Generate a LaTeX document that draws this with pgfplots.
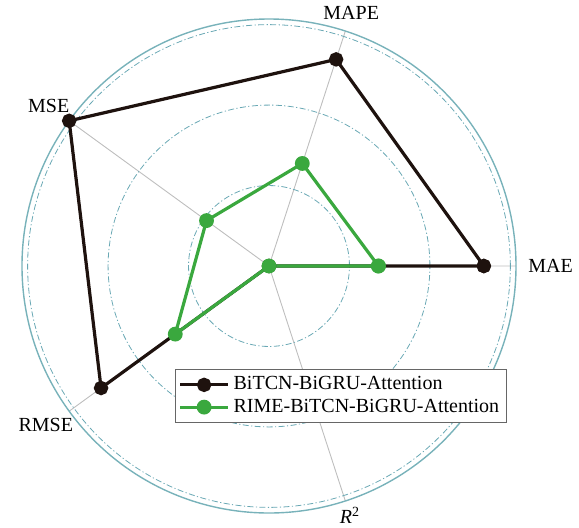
\documentclass[border=0pt]{standalone}
\usepackage{fontspec}
\setmainfont{Liberation Serif}
\usepackage{pgfplots}
\pgfplotsset{compat=1.18}
\usepgfplotslibrary{polar}
\definecolor{blk}{RGB}{30,18,14}
\definecolor{grn}{RGB}{58,168,62}
\definecolor{gridteal}{RGB}{105,168,180}
\definecolor{outerteal}{RGB}{120,178,186}
\definecolor{spoke}{RGB}{190,190,190}
\begin{document}
\begin{tikzpicture}
\begin{polaraxis}[
  scale only axis, width=247pt, height=247pt,
  ymin=0, ymax=3.07,
  xtick={0,72,144,216,288},
  xticklabels={\hspace*{4.5pt}MAE,MAPE,MSE,\raisebox{0pt}[3.5pt][0pt]{RMSE},\textit{R}\textsuperscript{2}},
  ytick={1,2,3}, yticklabels={},
  ymajorgrids, xmajorgrids,
  major tick length=0pt,
  x grid style={draw=spoke, line width=0.45pt},
  y grid style={draw=gridteal, line width=0.4pt, dash pattern=on 3pt off 1.2pt on 0.6pt off 1.2pt},
  axis line style={draw=outerteal, line width=0.7pt},
  y axis line style={draw=none},
  xticklabel style={font=\fontsize{10}{12}\selectfont, inner sep=1.5pt},
  legend style={at={(0.31,0.291)}, anchor=north west, draw=black!60, line width=0.5pt,
    font=\fontsize{10}{12}\selectfont, inner sep=1.5pt, row sep=-1pt, cells={anchor=west}},
  legend image code/.code={\draw[mark repeat=2,mark phase=2] plot coordinates {(0cm,0cm) (0.42cm,0cm) (0.84cm,0cm)};},
]
\coordinate (c) at (axis cs:0,0);
\addplot[blk, line width=1.6pt, mark=*, mark size=2.8pt, mark options={solid, fill=blk}]
  coordinates {(0,2.67) (72,2.70) (144,3.07) (216,2.58) (288,0) (360,2.67)};
\addlegendentry{BiTCN-BiGRU-Attention}
\addplot[grn, line width=1.6pt, mark=*, mark size=2.9pt, mark options={solid, fill=grn}]
  coordinates {(0,1.36) (72,1.34) (144,0.96) (216,1.44) (288,0) (360,1.36)};
\addlegendentry{RIME-BiTCN-BiGRU-Attention}
\end{polaraxis}
\pgfresetboundingbox
\path ([shift={(-134.5pt,133pt)}]c) rectangle ([shift={(155pt,-130.5pt)}]c);
\end{tikzpicture}
\end{document}
